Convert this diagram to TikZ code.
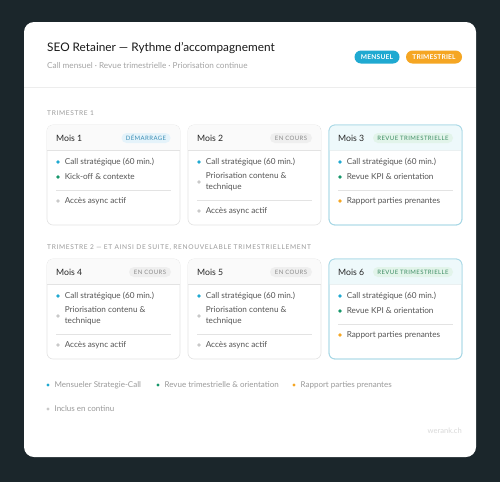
\documentclass[tikz,border=0pt]{standalone}
\usepackage{fontspec}
\setmainfont{Lato}
\usetikzlibrary{positioning}
\definecolor{bgdark}{HTML}{1B262B}
\definecolor{cyanc}{HTML}{1FA9D1}
\definecolor{greenc}{HTML}{16976A}
\definecolor{orangec}{HTML}{F5A623}
\definecolor{grayc}{HTML}{C9C9C9}
\definecolor{txt}{HTML}{555555}
\definecolor{lighttxt}{HTML}{9A9A9A}
\definecolor{cardline}{HTML}{E3E3E3}
\definecolor{cardhead}{HTML}{FAFAFA}
\definecolor{revline}{HTML}{A9D8E6}
\definecolor{revhead}{HTML}{EEF9FB}
\definecolor{revbadge}{HTML}{E2F4EA}
\definecolor{revtxt}{HTML}{3C8C62}
\definecolor{demb}{HTML}{E5F3FA}
\definecolor{demt}{HTML}{3A8DB5}
\definecolor{coursb}{HTML}{EFEFEF}
\definecolor{courst}{HTML}{8A8A8A}
\tikzset{
  cardbox/.style={draw=cardline, line width=0.6pt, fill=white, rounded corners=6pt},
  revbox/.style={draw=revline, line width=0.8pt, fill=white, rounded corners=6pt},
  head/.style={anchor=west, inner sep=0pt, font=\fontsize{8.7}{10}\selectfont, text=black!85},
  item/.style={anchor=west, inner sep=0pt, font=\fontsize{8.2}{10.8}\selectfont, text=txt, align=left},
  dotc/.style={circle, fill=#1, inner sep=0pt, minimum size=3.6pt},
  badge/.style={rounded corners=5pt, inner sep=0pt, minimum height=10pt, font=\fontsize{6.0}{6.5}\selectfont\addfontfeatures{LetterSpace=7}},
  topbadge/.style={rounded corners=6.5pt, inner sep=0pt, minimum height=13pt, text=white, font=\fontsize{6.6}{7}\bfseries\selectfont\addfontfeatures{LetterSpace=3}},
  sep/.style={draw=cardline, line width=0.6pt},
  section/.style={anchor=west, inner sep=0pt, text=lighttxt, font=\fontsize{6.6}{7}\selectfont\addfontfeatures{LetterSpace=10}},
  legend/.style={anchor=west, inner sep=0pt, text=lighttxt, font=\fontsize{8.0}{9}\selectfont},
}
\begin{document}
\begin{tikzpicture}[x=1pt,y=-1pt]
\useasboundingbox (0,0) rectangle (500,482);
\fill[bgdark] (0,0) rectangle (500,482);
\fill[white, rounded corners=10pt] (24,22) rectangle (476,457);
% title
\node[anchor=west, inner sep=0pt, font=\fontsize{11.8}{14}\selectfont, text=black!90] (title) at (47,48) {SEO Retainer — Rythme d'accompagnement};
\node[anchor=west, inner sep=0pt, font=\fontsize{8.2}{9}\selectfont, text=lighttxt!90] (subtitle) at (47,66) {Call mensuel · Revue trimestrielle · Priorisation continue};
\node[topbadge, fill=cyanc, minimum width=45pt] (bm) at (377,57) {MENSUEL};
\node[topbadge, fill=orangec, minimum width=56pt] (bt) at (434,57) {TRIMESTRIEL};
\draw[draw=black!7, line width=0.6pt] (24,87) coordinate (sepL) -- (476,87) coordinate (sepR);
% section 1
\node[section] (s1) at (47,113) {TRIMESTRE 1};
% ---------- Row 1 ----------
% card 1
\begin{scope}[shift={(47,125)}]
\draw[cardbox] (0,0) rectangle (133,100);
\begin{scope}
\clip[rounded corners=6pt] (0,0) rectangle (133,100);
\fill[cardhead] (0,0) rectangle (133,25);
\end{scope}
\draw[cardline, line width=0.6pt] (0,25) -- (133,25);
\node[head] (m1) at (9,13) {Mois 1};
\node[badge, fill=demb, text=demt, minimum width=49pt] (b1) at (99,13) {DÉMARRAGE};
\node[dotc=cyanc] (d11) at (11,37) {};
\node[item, right=4.6pt of d11] (t11) {Call stratégique (60 min.)};
\node[dotc=greenc] (d12) at (11,52) {};
\node[item, right=4.6pt of d12] (t12) {Kick-off \& contexte};
\draw[sep] (9,65) -- (124,65);
\node[dotc=grayc] (d13) at (11,76) {};
\node[item, right=4.6pt of d13] (t13) {Accès async actif};
\end{scope}
% card 2
\begin{scope}[shift={(188,125)}]
\draw[cardbox] (0,0) rectangle (133,100);
\begin{scope}
\clip[rounded corners=6pt] (0,0) rectangle (133,100);
\fill[cardhead] (0,0) rectangle (133,25);
\end{scope}
\draw[cardline, line width=0.6pt] (0,25) -- (133,25);
\node[head] (m2) at (9,13) {Mois 2};
\node[badge, fill=coursb, text=courst, minimum width=42pt] (b2) at (103,13) {EN COURS};
\node[dotc=cyanc] (d21) at (11,37) {};
\node[item, right=4.6pt of d21] (t21) {Call stratégique (60 min.)};
\node[dotc=grayc] (d22) at (11,57) {};
\node[item, right=4.6pt of d22] (t22) {Priorisation contenu \&\\technique};
\draw[sep] (9,75) -- (124,75);
\node[dotc=grayc] (d23) at (11,86) {};
\node[item, right=4.6pt of d23] (t23) {Accès async actif};
\end{scope}
% card 3
\begin{scope}[shift={(329,125)}]
\draw[revbox] (0,0) rectangle (133,100);
\begin{scope}
\clip[rounded corners=6pt] (0,0) rectangle (133,100);
\fill[revhead] (0,0) rectangle (133,25);
\end{scope}
\draw[draw=revhead!60!cardline, line width=0.6pt] (0,25) -- (133,25);
\draw[revbox, fill=none] (0,0) rectangle (133,100);
\node[head] (m3) at (9,13) {Mois 3};
\node[badge, fill=revbadge, text=revtxt, minimum width=80pt] (b3) at (84,13) {REVUE TRIMESTRIELLE};
\node[dotc=cyanc] (d31) at (11,37) {};
\node[item, right=4.6pt of d31] (t31) {Call stratégique (60 min.)};
\node[dotc=greenc] (d32) at (11,52) {};
\node[item, right=4.6pt of d32] (t32) {Revue KPI \& orientation};
\draw[sep] (9,65) -- (124,65);
\node[dotc=orangec] (d33) at (11,76) {};
\node[item, right=4.6pt of d33] (t33) {Rapport parties prenantes};
\end{scope}
% section 2
\node[section] (s2) at (47,248) {TRIMESTRE 2 — ET AINSI DE SUITE, RENOUVELABLE TRIMESTRIELLEMENT};
% ---------- Row 2 ----------
% card 4
\begin{scope}[shift={(47,259)}]
\draw[cardbox] (0,0) rectangle (133,100);
\begin{scope}
\clip[rounded corners=6pt] (0,0) rectangle (133,100);
\fill[cardhead] (0,0) rectangle (133,25);
\end{scope}
\draw[cardline, line width=0.6pt] (0,25) -- (133,25);
\node[head] (m4) at (9,13) {Mois 4};
\node[badge, fill=coursb, text=courst, minimum width=42pt] (b4) at (103,13) {EN COURS};
\node[dotc=cyanc] (d41) at (11,37) {};
\node[item, right=4.6pt of d41] (t41) {Call stratégique (60 min.)};
\node[dotc=grayc] (d42) at (11,57) {};
\node[item, right=4.6pt of d42] (t42) {Priorisation contenu \&\\technique};
\draw[sep] (9,75) -- (124,75);
\node[dotc=grayc] (d43) at (11,86) {};
\node[item, right=4.6pt of d43] (t43) {Accès async actif};
\end{scope}
% card 5
\begin{scope}[shift={(188,259)}]
\draw[cardbox] (0,0) rectangle (133,100);
\begin{scope}
\clip[rounded corners=6pt] (0,0) rectangle (133,100);
\fill[cardhead] (0,0) rectangle (133,25);
\end{scope}
\draw[cardline, line width=0.6pt] (0,25) -- (133,25);
\node[head] (m5) at (9,13) {Mois 5};
\node[badge, fill=coursb, text=courst, minimum width=42pt] (b5) at (103,13) {EN COURS};
\node[dotc=cyanc] (d51) at (11,37) {};
\node[item, right=4.6pt of d51] (t51) {Call stratégique (60 min.)};
\node[dotc=grayc] (d52) at (11,57) {};
\node[item, right=4.6pt of d52] (t52) {Priorisation contenu \&\\technique};
\draw[sep] (9,75) -- (124,75);
\node[dotc=grayc] (d53) at (11,86) {};
\node[item, right=4.6pt of d53] (t53) {Accès async actif};
\end{scope}
% card 6
\begin{scope}[shift={(329,259)}]
\draw[revbox] (0,0) rectangle (133,100);
\begin{scope}
\clip[rounded corners=6pt] (0,0) rectangle (133,100);
\fill[revhead] (0,0) rectangle (133,25);
\end{scope}
\draw[draw=revhead!60!cardline, line width=0.6pt] (0,25) -- (133,25);
\draw[revbox, fill=none] (0,0) rectangle (133,100);
\node[head] (m6) at (9,13) {Mois 6};
\node[badge, fill=revbadge, text=revtxt, minimum width=80pt] (b6) at (84,13) {REVUE TRIMESTRIELLE};
\node[dotc=cyanc] (d61) at (11,37) {};
\node[item, right=4.6pt of d61] (t61) {Call stratégique (60 min.)};
\node[dotc=greenc] (d62) at (11,52) {};
\node[item, right=4.6pt of d62] (t62) {Revue KPI \& orientation};
\draw[sep] (9,65) -- (124,65);
\node[dotc=orangec] (d63) at (11,76) {};
\node[item, right=4.6pt of d63] (t63) {Rapport parties prenantes};
\end{scope}
% legend
\node[dotc=cyanc, minimum size=3.4pt] (l1) at (48,385) {};
\node[legend, right=4.5pt of l1] (lt1) {Mensueler Strategie-Call};
\node[dotc=greenc, minimum size=3.4pt] (l2) at (158,385) {};
\node[legend, right=4.5pt of l2] (lt2) {Revue trimestrielle \& orientation};
\node[dotc=orangec, minimum size=3.4pt] (l3) at (294,385) {};
\node[legend, right=4.5pt of l3] (lt3) {Rapport parties prenantes};
\node[dotc=grayc, minimum size=3.4pt] (l4) at (48,409) {};
\node[legend, right=4.5pt of l4] (lt4) {Inclus en continu};
\node[anchor=east, inner sep=0pt, text=black!15, font=\fontsize{7.6}{9}\selectfont] (wm) at (462,431) {werank.ch};
\end{tikzpicture}
\end{document}
